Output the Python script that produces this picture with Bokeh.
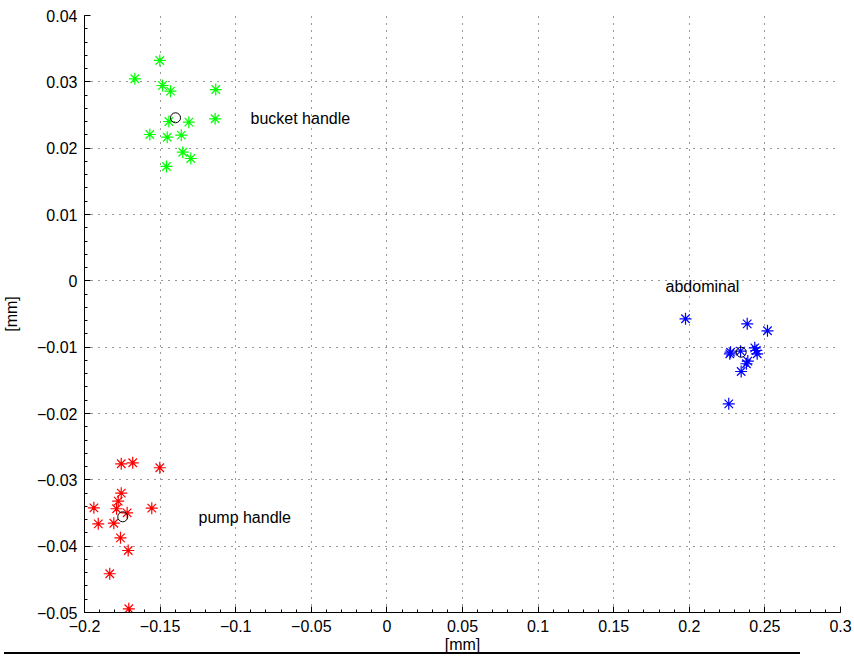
from bokeh.plotting import figure
from bokeh.embed import file_html
from bokeh.resources import INLINE
from bokeh.models import FixedTicker, CustomJSTickFormatter, Div
from bokeh.layouts import column
from bokeh.core.properties import value

# ---- data ----
bucket_x = [-0.1502, -0.1667, -0.1484, -0.1431, -0.1132, -0.1442, -0.1310, -0.1136,
            -0.1568, -0.1453, -0.1360, -0.1350, -0.1297, -0.1458]
bucket_y = [0.03322, 0.03046, 0.02945, 0.02859, 0.02884, 0.02402, 0.02392, 0.02443,
            0.02206, 0.02165, 0.02196, 0.01939, 0.01844, 0.01724]
bucket_mean = [-0.1398, 0.02458]

abd_x = [0.1975, 0.2383, 0.2517, 0.2273, 0.2268, 0.2339, 0.2433, 0.2443, 0.2449,
         0.2387, 0.2378, 0.2343, 0.2261]
abd_y = [-0.00572, -0.00648, -0.00753, -0.01076, -0.01100, -0.01060, -0.01010,
         -0.01050, -0.01100, -0.01210, -0.01250, -0.01367, -0.01854]
abd_mean = [0.2343, -0.01076]

pump_x = [-0.1757, -0.1681, -0.1502, -0.1757, -0.1777, -0.1938, -0.1788, -0.1718,
          -0.1555, -0.1909, -0.1806, -0.1762, -0.1711, -0.1833, -0.1707]
pump_y = [-0.02758, -0.02743, -0.02818, -0.03201, -0.03322, -0.03422, -0.03436,
          -0.03497, -0.03427, -0.03663, -0.03654, -0.03874, -0.04065, -0.04416, -0.04944]
pump_mean = [-0.1747, -0.03557]

label_text = ["bucket handle", "abdominal", "pump handle"]
label_x = [-0.0902, 0.1843, -0.1246]
label_y = [0.02447, -0.00085, -0.03568]

x_ticks = [-0.2, -0.15, -0.1, -0.05, 0, 0.05, 0.1, 0.15, 0.2, 0.25, 0.3]
y_ticks = [0.04, 0.03, 0.02, 0.01, 0, -0.01, -0.02, -0.03, -0.04, -0.05]
x_minor = [round(-0.2 + 0.01 * i, 4) for i in range(51)]
y_minor = [round(-0.05 + 0.002 * i, 4) for i in range(46)]

FONT = "Liberation Sans"
FS = "16px"

p = figure(width=854, height=656, output_backend="svg", toolbar_location=None,
           x_range=(-0.2, 0.3), y_range=(-0.05, 0.04),
           min_border_left=84, min_border_right=14, min_border_top=15,
           min_border_bottom=44)
p.outline_line_color = None
p.background_fill_color = "white"
p.border_fill_color = "white"

fmt = CustomJSTickFormatter(code="""
    let s = parseFloat(tick.toFixed(4)).toString();
    return s.replace('-', '\\u2212');
""")

p.xaxis.ticker = FixedTicker(ticks=x_ticks, minor_ticks=x_minor)
p.yaxis.ticker = FixedTicker(ticks=y_ticks, minor_ticks=y_minor)
for ax in (p.xaxis, p.yaxis):
    ax.formatter = fmt
    ax.major_tick_in = 6
    ax.major_tick_out = 0
    ax.minor_tick_in = 3
    ax.minor_tick_out = 0
    ax.axis_line_color = "black"
    ax.major_tick_line_color = "black"
    ax.minor_tick_line_color = "black"
    ax.major_label_text_font = FONT
    ax.major_label_text_font_size = FS
    ax.major_label_text_color = "black"
    ax.axis_label_text_font = FONT
    ax.axis_label_text_font_size = FS
    ax.axis_label_text_font_style = "normal"
    ax.axis_label_text_color = "black"

p.xaxis.axis_label = "[mm]"
p.yaxis.axis_label = "[mm]"
p.xaxis.major_label_standoff = 7
p.xaxis.axis_label_standoff = 1
p.yaxis.major_label_standoff = 7
p.yaxis.axis_label_standoff = 14

for g in (p.xgrid, p.ygrid):
    g.grid_line_color = "black"
    g.grid_line_alpha = 0.8
    g.grid_line_dash = "1 6"
    g.grid_line_width = 1

p.scatter(bucket_x, bucket_y, marker="asterisk", size=12, line_color="#00ff00", line_width=1.2)
p.scatter(abd_x, abd_y, marker="asterisk", size=12, line_color="#0000ff", line_width=1.2)
p.scatter(pump_x, pump_y, marker="asterisk", size=12, line_color="#ff0000", line_width=1.2)

p.scatter([bucket_mean[0], abd_mean[0], pump_mean[0]],
          [bucket_mean[1], abd_mean[1], pump_mean[1]],
          marker="circle", size=10, fill_color=None, line_color="black", line_width=1)

p.text(x=label_x, y=label_y, text=label_text, text_font=value(FONT),
       text_font_size=FS, text_baseline="middle", text_align="left", text_color="black")

line = Div(text="", width=796, height=4, margin=(-4, 0, 0, 4),
           styles={"border-top": "2px solid black", "box-sizing": "border-box"})

layout = column(p, line, spacing=0)

open("out.html", "w").write(file_html(layout, INLINE))
